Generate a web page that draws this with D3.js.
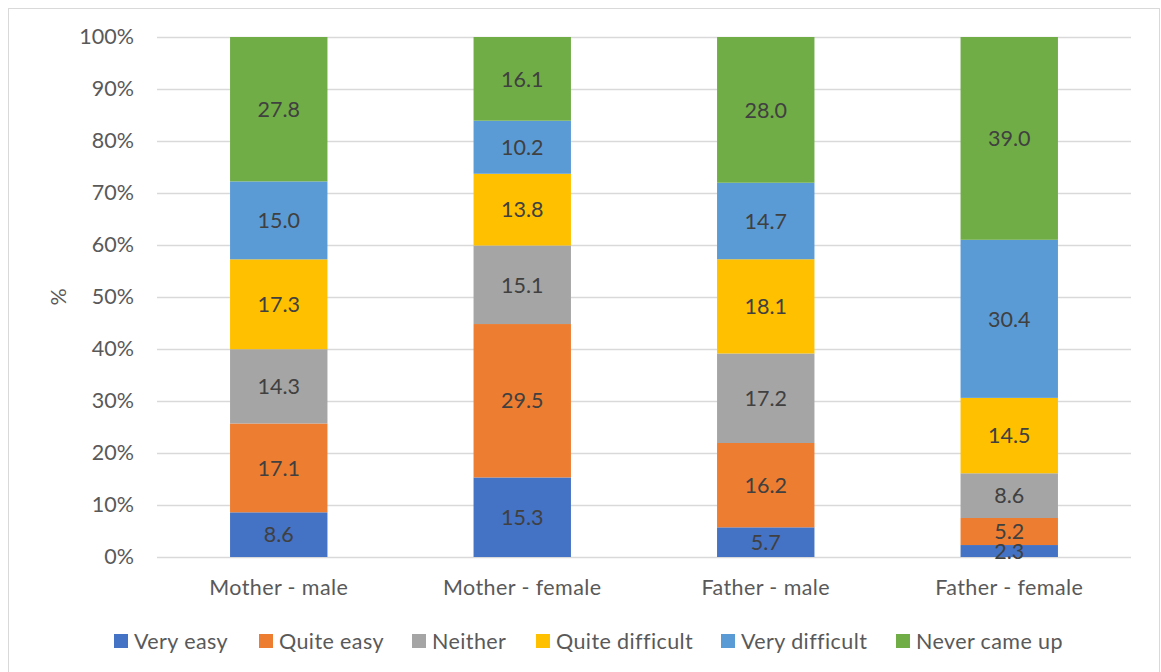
<!DOCTYPE html>
<html><head><meta charset="utf-8">
<script src="https://cdn.jsdelivr.net/npm/d3@7"></script>
<style>body{margin:0;background:#fff;} svg{display:block;}</style>
</head><body>
<svg id="c" width="1161" height="672"></svg>
<script>
const categories = ["Mother - male", "Mother - female", "Father - male", "Father - female"];
const seriesNames = ["Very easy", "Quite easy", "Neither", "Quite difficult", "Very difficult", "Never came up"];
const veryEasy = [8.6, 15.3, 5.7, 2.3];
const quiteEasy = [17.1, 29.5, 16.2, 5.2];
const neither = [14.3, 15.1, 17.2, 8.6];
const quiteDifficult = [17.3, 13.8, 18.1, 14.5];
const veryDifficult = [15.0, 10.2, 14.7, 30.4];
const neverCameUp = [27.8, 16.1, 28.0, 39.0];
const yTicks = [0, 0.1, 0.2, 0.3, 0.4, 0.5, 0.6, 0.7, 0.8, 0.9, 1.0];
const colors = ["#4472C4", "#ED7D31", "#A5A5A5", "#FFC000", "#5B9BD5", "#70AD47"];

const seriesVals = [veryEasy, quiteEasy, neither, quiteDifficult, veryDifficult, neverCameUp];
const FONT = "Lato, 'Open Sans', sans-serif";
const FS = 21.5;
const svg = d3.select("#c");
svg.append("rect").attr("x", 8.5).attr("y", 8.5).attr("width", 1151).attr("height", 670)
  .attr("fill", "#fff").attr("stroke", "#D9D9D9").attr("stroke-width", 1);

const L = 157, R = 1131, T = 37, B = 557;
const x = d3.scaleBand().domain(categories).range([L, R]).paddingInner(0.6).paddingOuter(0.3);
const y = d3.scaleLinear().domain([0, 1]).range([B, T]);

// gridlines
svg.append("g").selectAll("line").data(yTicks).join("line")
  .attr("x1", L).attr("x2", R).attr("y1", d => Math.round(y(d)) + 0.5).attr("y2", d => Math.round(y(d)) + 0.5)
  .attr("stroke", "#D9D9D9").attr("stroke-width", 1.5);

const yAxis = svg.append("g").attr("transform", `translate(${L},0)`)
  .call(d3.axisLeft(y).tickValues(yTicks).tickFormat(d3.format(".0%")).tickSize(0).tickPadding(23));
yAxis.select(".domain").remove();
yAxis.selectAll("text").attr("font-family", FONT).attr("font-size", FS).attr("fill", "#595959");

// data
const rows = categories.map((c, i) => {
  const o = {cat: c};
  const tot = d3.sum(seriesVals, s => s[i]);
  seriesNames.forEach((n, j) => { o[n] = seriesVals[j][i] / tot; o[n + "_raw"] = seriesVals[j][i]; });
  return o;
});
const stack = d3.stack().keys(seriesNames)(rows);

const g = svg.append("g");
stack.forEach((layer, j) => {
  g.selectAll(null).data(layer).join("rect")
    .attr("x", d => x(d.data.cat)).attr("width", x.bandwidth())
    .attr("y", d => y(d[1])).attr("height", d => y(d[0]) - y(d[1]))
    .attr("fill", colors[j]);
});
stack.forEach((layer, j) => {
  g.selectAll(null).data(layer).join("text")
    .attr("x", d => x(d.data.cat) + x.bandwidth() / 2)
    .attr("y", d => (y(d[0]) + y(d[1])) / 2)
    .attr("dy", "0.36em").attr("text-anchor", "middle")
    .attr("font-family", FONT).attr("font-size", FS).attr("fill", "#404040")
    .text(d => d.data[layer.key + "_raw"].toFixed(1));
});

const xAxis = svg.append("g").attr("transform", `translate(0,${B})`)
  .call(d3.axisBottom(x).tickSize(0).tickPadding(23));
xAxis.select(".domain").remove();
xAxis.selectAll("text").attr("font-family", FONT).attr("font-size", FS).attr("fill", "#595959")
  .attr("letter-spacing", "0.4px");

// y title
svg.append("text").attr("transform", "translate(66,297) rotate(-90)").attr("text-anchor", "middle")
  .attr("font-family", FONT).attr("font-size", FS).attr("fill", "#595959").text("%");

// legend
const legX = [114, 259, 412, 536, 721, 896];
const leg = svg.append("g");
seriesNames.forEach((n, j) => {
  leg.append("rect").attr("x", legX[j]).attr("y", 634).attr("width", 14).attr("height", 14).attr("fill", colors[j]);
  leg.append("text").attr("x", legX[j] + 20).attr("y", 641).attr("dy", "0.36em")
    .attr("font-family", FONT).attr("font-size", FS).attr("fill", "#595959")
    .attr("letter-spacing", "0.4px").text(n);
});
</script>
</body></html>
